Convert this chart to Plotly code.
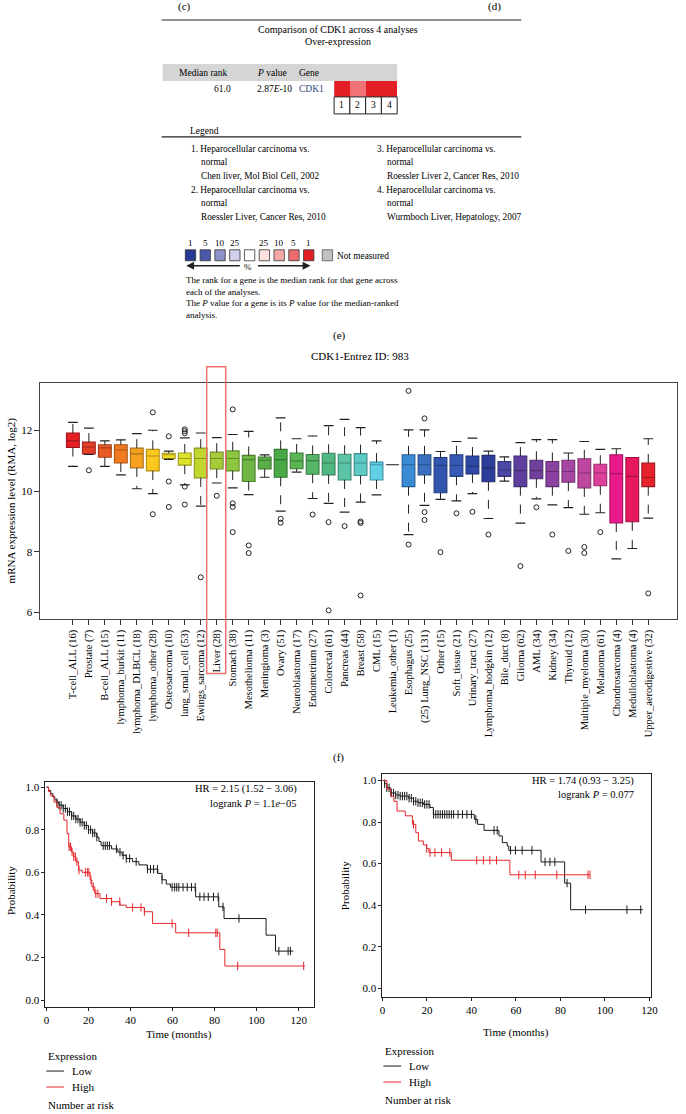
import numpy as np
import plotly.graph_objects as go

W, H = 686, 1114
SERIF = "Liberation Serif"

# ---------- (e) Oncomine comparison ----------
analysis_ids = [1, 2, 3, 4]
analysis_pct = [1, 5, 1, 1]
median_rank = "61.0"
p_value = "2.87<i>E</i>-10"
gene = "CDK1"
legend_left = [
    ["1. Heparocellular carcinoma vs.", "normal", "Chen liver, Mol Biol Cell, 2002"],
    ["2. Heparocellular carcinoma vs.", "normal", "Roessler Liver, Cancer Res, 2010"],
]
legend_right = [
    ["3. Heparocellular carcinoma vs.", "normal", "Roessler Liver 2, Cancer Res, 2010"],
    ["4. Heparocellular carcinoma vs.", "normal", "Wurmboch Liver, Hepatology, 2007"],
]
scale_labels = ["1", "5", "10", "25", "", "25", "10", "5", "1"]
scale_colors = ["#263a93", "#4c59aa", "#8d92c9", "#d0d1e8", "#ffffff",
                "#fbe0dd", "#f5a9a6", "#ef6c6f", "#e31e24"]
notes = [
    "The rank for a gene is the median rank for that gene across",
    "each of the analyses.",
    "The <i>P</i> value for a gene is its <i>P</i> value for the median-ranked",
    "analysis.",
]

# ---------- (f) CCLE boxplot ----------
cancer_labels = [
    "T-cell_ALL (16)", "Prostate (7)", "B-cell_ALL (15)", "lymphoma_burkit (11)",
    "lymphoma_DLBCL (18)", "lymphoma_other (28)", "Osteosarcoma (10)",
    "lung_small_cell (53)", "Ewings_sarcoma (12)", "Liver (28)", "Stomach (38)",
    "Mesothelioma (11)", "Meningioma (3)", "Ovary (51)", "Neuroblastoma (17)",
    "Endometrium (27)", "Colorectal (61)", "Pancreas (44)", "Breast (58)",
    "CML (15)", "Leukemia_other (1)", "Esophagus (25)", "(25) Lung_NSC (131)",
    "Other (15)", "Soft_tissue (21)", "Urinary_tract (27)", "Lymphoma_hodgkin (12)",
    "Bile_duct (8)", "Glioma (62)", "AML (34)", "Kidney (34)", "Thyroid (12)",
    "Multiple_myeloma (30)", "Melanoma (61)", "Chondrosarcoma (4)",
    "Medulloblastoma (4)", "Upper_aerodigestive (32)",
]
box_hi = [12.27, 12.08, 11.66, 11.69, 11.90, 12.01, 11.32, 11.76, 11.92, 11.77,
          11.87, 11.97, 11.20, 12.42, 11.73, 11.82, 12.16, 12.37, 12.10, 11.66,
          10.87, 12.02, 12.02, 11.31, 11.64, 11.75, 11.32, 11.13, 11.60, 11.70,
          11.70, 11.26, 11.64, 11.38, 11.40, 11.11, 11.73]
box_q3 = [11.92, 11.62, 11.53, 11.53, 11.42, 11.38, 11.25, 11.26, 11.42, 11.29,
          11.33, 11.18, 11.13, 11.38, 11.26, 11.21, 11.25, 11.22, 11.24, 10.96,
          10.87, 11.20, 11.20, 11.11, 11.20, 11.16, 11.18, 10.98, 11.16, 11.02,
          10.98, 11.02, 11.07, 10.89, 11.20, 11.11, 10.93]
box_med = [11.66, 11.46, 11.43, 11.36, 11.23, 11.16, 11.20, 11.08, 11.08, 11.08,
           11.08, 11.04, 11.02, 11.04, 11.00, 11.01, 10.93, 10.93, 10.93, 10.87,
           10.87, 10.87, 10.87, 10.85, 10.85, 10.82, 10.76, 10.70, 10.68, 10.68,
           10.65, 10.65, 10.60, 10.60, 10.58, 10.49, 10.45]
box_q1 = [11.44, 11.23, 11.12, 10.93, 10.77, 10.67, 11.08, 10.86, 10.44, 10.73,
          10.67, 10.32, 10.73, 10.46, 10.74, 10.56, 10.54, 10.37, 10.52, 10.37,
          10.87, 10.15, 10.54, 9.95, 10.49, 10.57, 10.31, 10.49, 10.15, 10.41,
          10.15, 10.30, 10.11, 10.18, 8.95, 8.99, 10.15]
box_lo = [10.82, 11.21, 10.82, 10.54, 10.08, 9.92, 11.05, 10.21, 9.51, 10.27,
          10.11, 9.89, 10.46, 9.34, 10.63, 9.76, 9.60, 9.31, 9.64, 9.88,
          10.87, 8.57, 9.53, 9.73, 9.68, 9.92, 9.10, 10.33, 8.95, 9.75,
          9.55, 9.46, 9.24, 9.29, 7.77, 8.11, 9.11]
box_out = [[], [10.69], [], [], [], [12.60, 9.24], [11.81, 10.32, 9.48],
           [12.04, 11.98, 11.91, 10.15, 9.56], [7.16], [9.85],
           [12.70, 9.60, 9.48, 8.65], [8.21, 7.96], [], [9.09, 8.96], [], [9.23],
           [8.98, 6.07], [8.85], [9.00, 8.95, 6.56], [], [], [13.31, 8.24],
           [12.40, 9.31, 9.05], [7.99], [9.27], [9.32], [8.57], [], [7.53], [9.47],
           [8.57], [8.03], [8.16, 7.96], [8.65], [], [], [6.63]]
box_colors = ["#e41f26", "#e43d2a", "#ea5a26", "#f07a22", "#f6a020", "#fbc820",
              "#f0dc28", "#dde22a", "#c2d72e", "#a6cc3a", "#8dc63f", "#6db643",
              "#5aae47", "#4aa947", "#5ab552", "#55b466", "#52b882", "#5bc3a7",
              "#5ecac4", "#61cfe6", "#222222", "#3b8ad4", "#3a6fbf", "#3155ad",
              "#3559b5", "#2f4aa6", "#2f3d9a", "#4d47a5", "#5e3f9e", "#6f419d",
              "#8b419f", "#a646a3", "#bd479f", "#dd3f9b", "#e91a8a", "#e8185e",
              "#e6232d"]
highlight = "Liver (28)"

# ---------- (g) Kaplan-Meier curves ----------
km1_low_t = [0, 1, 2, 3, 4, 5, 6, 8, 10, 12, 14, 16, 18, 20, 22, 24, 25, 26, 31, 34,
             36, 38, 41, 44, 48, 53, 55, 57, 59, 71, 82, 84.5, 104.5, 109, 117.5]
km1_low_s = [1.0, 0.985, 0.97, 0.955, 0.94, 0.928, 0.915, 0.90, 0.885, 0.865, 0.85,
             0.835, 0.82, 0.80, 0.785, 0.765, 0.745, 0.725, 0.71, 0.695, 0.68, 0.665,
             0.65, 0.635, 0.615, 0.595, 0.565, 0.545, 0.53, 0.485, 0.438, 0.383,
             0.305, 0.23, 0.23]
km1_low_c = [5, 6, 7, 8, 9, 10, 11, 12, 13, 14, 15, 16, 17, 18, 19, 20, 21, 22, 23,
             24, 27, 28, 29, 30, 33.3, 35, 36.5, 38, 39.6, 42.7, 48.1, 49.5, 51,
             52.8, 55, 59.8, 61, 62, 63, 65, 67, 69, 70.8, 73, 75, 77, 79.5, 81.7,
             84, 91.6, 110.6, 115, 116.1]
km1_high_t = [0, 1, 2, 3.6, 5, 6.5, 8.3, 9.8, 10.6, 12, 13, 14, 15.3, 17, 20.8, 21.6,
              23, 25.5, 31, 35, 38, 46.6, 50.5, 61.5, 82.5, 84.9, 123]
km1_high_s = [1.0, 0.98, 0.96, 0.93, 0.905, 0.875, 0.845, 0.782, 0.72, 0.695, 0.673,
              0.65, 0.61, 0.60, 0.564, 0.532, 0.50, 0.477, 0.462, 0.446, 0.435, 0.415,
              0.36, 0.316, 0.238, 0.16, 0.16]
km1_high_c = [10.8, 11.5, 12.2, 13, 13.8, 14.5, 15.5, 18.5, 19.5, 20.2, 21.2, 22.3,
              23.5, 24.5, 28.6, 31, 34.9, 41, 45, 46.6, 59.8, 67.7, 80.6, 81.3, 91,
              122.4]
km2_low_t = [0, 1, 2, 3.7, 5.9, 8, 11.8, 14, 16, 18.5, 21.4, 22.9, 41.3, 42.8, 45.7,
             52.4, 53.9, 56.1, 56.8, 71.3, 81.9, 84.6, 117.1]
km2_low_s = [1.0, 0.985, 0.965, 0.94, 0.93, 0.925, 0.915, 0.90, 0.893, 0.885, 0.87,
             0.837, 0.813, 0.789, 0.76, 0.733, 0.701, 0.685, 0.664, 0.608, 0.506,
             0.378, 0.378]
km2_low_c = [1, 2, 3, 4, 5, 6, 7, 8, 9, 10, 11, 12, 13, 14, 15, 16, 17, 18, 19, 20,
             21, 23, 24, 25, 26, 27, 28, 29, 30, 31, 32, 34, 36, 38, 40, 42, 50.2,
             51.6, 57.6, 59.8, 62.8, 67.2, 73.1, 75.3, 77.5, 83, 91.3, 109.9, 116.1]
km2_high_t = [0, 2, 3.7, 5.2, 6.6, 10.3, 13.5, 15, 16.2, 18.4, 19.9, 20.9, 31, 57.3,
              93.3]
km2_high_s = [1.0, 0.96, 0.925, 0.90, 0.853, 0.83, 0.789, 0.749, 0.709, 0.69, 0.673,
              0.653, 0.616, 0.546, 0.546]
km2_high_c = [14, 19.9, 21.4, 23.6, 26.6, 30.3, 42.4, 45.4, 48.3, 51.3, 61.3, 64.2,
              68.7, 78.4, 92.4, 93.3]
km1_stats = ["HR = 2.15 (1.52 − 3.06)", "logrank <i>P</i> = 1.1<i>e</i>−05"]
km2_stats = ["HR = 1.74 (0.93 − 3.25)", "logrank <i>P</i> = 0.077"]
LOW_C, HIGH_C = "#1a1a1a", "#e3262b"


def px(x):
    return x / W


def py(y):
    return 1 - y / H


def darker(hexcol, f=0.7):
    r, g, b = (int(hexcol[i:i + 2], 16) for i in (1, 3, 5))
    return "#%02x%02x%02x" % (int(r * f), int(g * f), int(b * f))


def label(fig, x, y, s, size=10, anchor="left", color="black", angle=0):
    fig.add_annotation(x=px(x), y=py(y), xref="paper", yref="paper", text=s,
                       showarrow=False, xanchor=anchor, yanchor="middle",
                       textangle=angle,
                       font=dict(family=SERIF, size=size, color=color))


def line(fig, x0, y0, x1, y1, color="black", width=1):
    fig.add_shape(type="line", xref="paper", yref="paper", x0=px(x0), y0=py(y0),
                  x1=px(x1), y1=py(y1), line=dict(color=color, width=width))


def rect(fig, x0, y0, x1, y1, fill, border="black", width=1):
    fig.add_shape(type="rect", xref="paper", yref="paper", x0=px(x0), y0=py(y0),
                  x1=px(x1), y1=py(y1), fillcolor=fill,
                  line=dict(color=border, width=width))


def step_at(t, s, times):
    idx = np.searchsorted(np.array(t), np.array(times), side="right") - 1
    return list(np.array(s)[idx])


fig = go.Figure()

# ===== top panel (e) =====
label(fig, 184, 6, "(c)", 11, "center")
label(fig, 499, 6, "(d)", 11, "center")
line(fig, 161, 19, 526, 19, "#222", 1.2)
label(fig, 340, 29, "Comparison of CDK1 across 4 analyses", 10, "center")
label(fig, 340, 41, "Over-expression", 10, "center")
rect(fig, 162, 63, 400, 80, "#d5d5d5", "#d5d5d5", 0)
label(fig, 203, 72, "Median rank", 9.5, "center")
label(fig, 273, 72, "<i>P</i> value", 9.5, "center")
label(fig, 311, 72, "Gene", 9.5, "center")
label(fig, 233, 88, median_rank, 9.5, "right")
label(fig, 276, 88, p_value, 9.5, "center")
label(fig, 313, 88, gene, 9.5, "center", color="#2d4a78")

fig.add_trace(go.Heatmap(
    z=[analysis_pct], x=analysis_ids, y=[0], zmin=1, zmax=5,
    colorscale=[[0, "#e31e24"], [1, "#f07274"]], showscale=False,
    xaxis="x4", yaxis="y4", hoverinfo="skip"))
for i, a in enumerate(analysis_ids):
    rect(fig, 336 + 16 * i, 96, 352 + 16 * i, 113, "white", "#222", 1)
    label(fig, 344 + 16 * i, 104.5, str(a), 9.5, "center")

label(fig, 188, 130, "Legend", 9.5)
line(fig, 161, 136, 526, 136, "#222", 1.2)
for col, xs in ((legend_left, 189), (legend_right, 378)):
    for k, item in enumerate(col):
        y0 = 148 + 41 * k
        label(fig, xs, y0, item[0], 9.3)
        label(fig, xs + 10, y0 + 13.5, item[1], 9.3)
        label(fig, xs + 10, y0 + 27, item[2], 9.3)

for i, (lab, colr) in enumerate(zip(scale_labels, scale_colors)):
    x0 = 185 + 15 * i
    rect(fig, x0, 249, x0 + 10.5, 260, colr, "#333", 0.8)
    if lab:
        label(fig, x0 + 5, 242, lab, 9, "center")
rect(fig, 324, 249, 334.5, 260, "#c0c0c0", "#555", 0.8)
label(fig, 337, 255, "Not measured", 9.3)
fig.add_annotation(x=px(186), y=py(265), xref="paper", yref="paper", ax=55, ay=0,
                   text="", showarrow=True, arrowhead=2, arrowsize=1.2,
                   arrowwidth=1.3, arrowcolor="#222")
fig.add_annotation(x=px(312), y=py(265), xref="paper", yref="paper", ax=-54, ay=0,
                   text="", showarrow=True, arrowhead=2, arrowsize=1.2,
                   arrowwidth=1.3, arrowcolor="#222")
label(fig, 249, 266, "%", 9, "center")
for k, s in enumerate(notes):
    label(fig, 184, 279 + 11.8 * k, s, 9)
label(fig, 341, 335, "(e)", 11, "center")

# ===== boxplot (f) =====
label(fig, 362, 355, "CDK1-Entrez ID: 983", 11, "center")
for i, cat in enumerate(cancer_labels):
    fig.add_trace(go.Box(
        x=[cat], q1=[box_q1[i]], median=[box_med[i]], q3=[box_q3[i]],
        lowerfence=[box_q1[i]], upperfence=[box_q3[i]], width=0.8,
        fillcolor=box_colors[i], line=dict(color=darker(box_colors[i]), width=1.1),
        boxpoints=False, showlegend=False, xaxis="x", yaxis="y"))

wx, wy, cx, cy, ox, oy = [], [], [], [], [], []
for i, cat in enumerate(cancer_labels):
    if box_hi[i] > box_q3[i]:
        wx += [cat, cat, None]
        wy += [box_q3[i], box_hi[i], None]
        cx.append(cat)
        cy.append(box_hi[i])
    if box_lo[i] < box_q1[i]:
        wx += [cat, cat, None]
        wy += [box_q1[i], box_lo[i], None]
        cx.append(cat)
        cy.append(box_lo[i])
    ox += [cat] * len(box_out[i])
    oy += box_out[i]
fig.add_trace(go.Scatter(x=wx, y=wy, mode="lines", showlegend=False,
                         line=dict(color="#222", width=1, dash="dash")))
fig.add_trace(go.Scatter(x=cx, y=cy, mode="markers", showlegend=False,
                         marker=dict(symbol="line-ew", size=7,
                                     line=dict(color="#222", width=1.2))))
fig.add_trace(go.Scatter(x=ox, y=oy, mode="markers", showlegend=False,
                         marker=dict(symbol="circle-open", size=5, color="#222",
                                     line=dict(width=1))))
hi_idx = cancer_labels.index(highlight)
fig.add_shape(type="rect", xref="x", yref="paper", x0=hi_idx - 0.63,
              x1=hi_idx + 0.56, y0=py(673), y1=py(366),
              line=dict(color="#e8706e", width=1.5))
label(fig, 9, 500, "mRNA expression level (RMA, log2)", 11, "center", angle=-90)
label(fig, 340, 757, "(f)", 11, "center")

# ===== KM plots =====
for t, s, c, colr, ax in (
        (km1_low_t, km1_low_s, km1_low_c, LOW_C, 2),
        (km1_high_t, km1_high_s, km1_high_c, HIGH_C, 2),
        (km2_low_t, km2_low_s, km2_low_c, LOW_C, 3),
        (km2_high_t, km2_high_s, km2_high_c, HIGH_C, 3)):
    fig.add_trace(go.Scatter(x=t, y=s, mode="lines", line_shape="hv",
                             line=dict(color=colr, width=1), showlegend=False,
                             xaxis="x%d" % ax, yaxis="y%d" % ax))
    fig.add_trace(go.Scatter(x=c, y=step_at(t, s, c), mode="markers",
                             marker=dict(symbol="line-ns", size=6,
                                         line=dict(color=colr, width=1)),
                             showlegend=False, xaxis="x%d" % ax, yaxis="y%d" % ax))

for (xr, yt, stats, sy, ptitle, tx, lx, ly) in (
        (300, 789, km1_stats, 14, (8, 890), (179, 1034), 44, 1056),
        (642, 781, km2_stats, 13, (347, 885), (521, 1032), 386, 1051)):
    label(fig, xr, yt, stats[0], 10.5, "right")
    label(fig, xr, yt + sy, stats[1], 10.5, "right")
    label(fig, ptitle[0], ptitle[1], "Probability", 11, "center", angle=-90)
    label(fig, tx[0], tx[1], "Time (months)", 11, "center")
    label(fig, lx, ly, "Expression", 11)
    line(fig, lx, ly + 15, lx + 18, ly + 15, LOW_C, 1)
    label(fig, lx + 24, ly + 15, "Low", 11)
    line(fig, lx, ly + 31, lx + 18, ly + 31, HIGH_C, 1)
    label(fig, lx + 24, ly + 31, "High", 11)
    label(fig, lx, ly + 49, "Number at risk", 11)

axis_font = dict(family=SERIF, size=11, color="black")
km_axis = dict(showline=True, mirror=True, linecolor="#222", linewidth=1,
               ticks="outside", ticklen=3, tickcolor="#222", showgrid=False,
               zeroline=False, tickfont=axis_font)

fig.update_layout(
    width=W, height=H, margin=dict(l=0, r=0, t=0, b=0),
    paper_bgcolor="white", plot_bgcolor="white", boxmode="overlay",
    showlegend=False,
    xaxis=dict(domain=[px(38), px(684)], type="category",
               categoryorder="array", categoryarray=cancer_labels,
               range=[-2.03, 37.8], tickangle=-90, showline=True, mirror=True,
               linecolor="#444", linewidth=1, ticks="outside", ticklen=5,
               tickcolor="#333", showgrid=False,
               tickfont=dict(family=SERIF, size=10.5, color="black")),
    yaxis=dict(domain=[py(619), py(382)], range=[5.77, 13.58],
               tickvals=[6, 8, 10, 12], showline=True, mirror=True,
               linecolor="#444", linewidth=1, ticks="outside", ticklen=5,
               tickcolor="#333", showgrid=False, zeroline=False,
               tickfont=axis_font),
    xaxis2=dict(domain=[px(43), px(316)], range=[-0.5, 127.5],
                tickvals=[0, 20, 40, 60, 80, 100, 120], anchor="y2",
                ticklabelstandoff=0, **km_axis),
    yaxis2=dict(domain=[py(1007), py(782)], range=[-0.033, 1.023],
                tickvals=[0, 0.2, 0.4, 0.6, 0.8, 1.0], tickformat=".1f",
                anchor="x2", **km_axis),
    xaxis3=dict(domain=[px(385), px(658)], range=[0, 120.9],
                tickvals=[0, 20, 40, 60, 80, 100, 120], anchor="y3",
                ticklabelstandoff=0, **km_axis),
    yaxis3=dict(domain=[py(997), py(774)], range=[-0.043, 1.03],
                tickvals=[0, 0.2, 0.4, 0.6, 0.8, 1.0], tickformat=".1f",
                anchor="x3", **km_axis),
    xaxis4=dict(domain=[px(336), px(400)], range=[0.5, 4.5], visible=False,
                anchor="y4"),
    yaxis4=dict(domain=[py(96), py(79)], range=[-0.5, 0.5], visible=False,
                anchor="x4"),
)

fig.write_html("out.html", config={"displayModeBar": False},
               post_script="document.body.style.margin='0';")
